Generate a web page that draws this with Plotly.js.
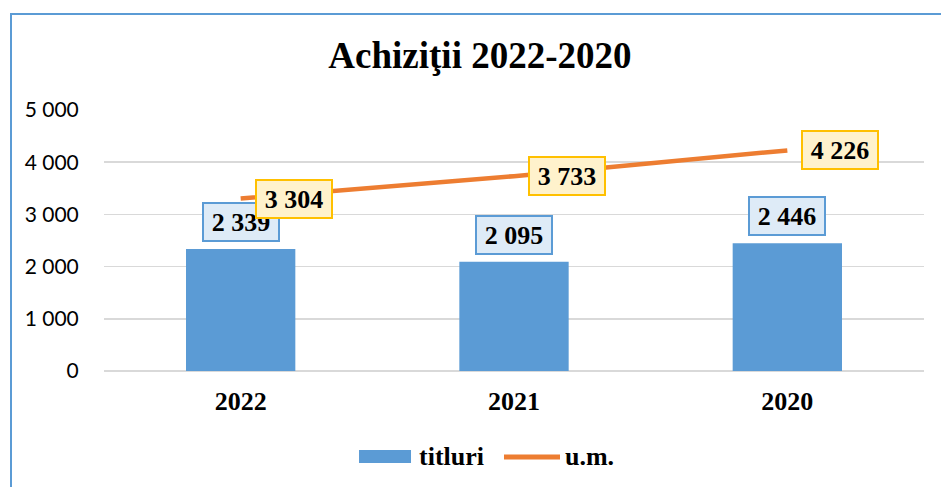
<!DOCTYPE html>
<html>
<head>
<meta charset="utf-8">
<script src="https://cdn.plot.ly/plotly-3.0.1.min.js"></script>
<style>
  html, body { margin: 0; padding: 0; background: #ffffff; overflow: hidden; }
  #chart { position: absolute; left: 0; top: 0; width: 941px; height: 487px; }
  #frame { position: absolute; left: 10px; top: 13px; width: 2000px; height: 2000px;
           border-top: 2px solid #5B9BD5; border-left: 2px solid #5B9BD5; pointer-events: none; }
</style>
</head>
<body>
<div id="chart"></div>
<div id="frame"></div>
<script>
const categories = ['2022', '2021', '2020'];
const titluri = [2339, 2095, 2446];
const um = [3304, 3733, 4226];
const yTickVals = [0, 1000, 2000, 3000, 4000, 5000];
const seriesNames = ['titluri', 'u.m.'];
const chartTitle = 'Achiziţii 2022-2020';

const BLUE = '#5B9BD5';
const ORANGE = '#ED7D31';
const SERIF = '"Liberation Serif", "Times New Roman", serif';
const SANS = 'Lato, Carlito, Calibri, sans-serif';

function fmt(v) { return String(v).replace(/\B(?=(\d{3})+(?!\d))/g, ' '); }

const traces = [
  { type: 'bar', x: categories, y: titluri, name: seriesNames[0],
    marker: { color: BLUE }, width: 0.4, hoverinfo: 'skip', showlegend: false },
  { type: 'scatter', mode: 'lines', x: categories, y: um, name: seriesNames[1],
    line: { color: ORANGE, width: 4.5 }, hoverinfo: 'skip', showlegend: false }
];

const annotations = [];
categories.forEach((c, i) => {
  annotations.push({
    x: i, y: titluri[i], xref: 'x', yref: 'y', text: fmt(titluri[i]),
    showarrow: false, xanchor: 'center', yanchor: 'bottom', yshift: 7,
    width: 72, height: 34, borderpad: 1,
    bgcolor: '#DEEBF7', bordercolor: BLUE, borderwidth: 2,
    font: { family: SERIF, size: 26, color: '#000', weight: 'bold' }
  });
});
categories.forEach((c, i) => {
  annotations.push({
    x: i, y: um[i], xref: 'x', yref: 'y', text: fmt(um[i]),
    showarrow: false, xanchor: 'center', yanchor: 'middle', xshift: 53,
    width: 72, height: 34, borderpad: 1,
    bgcolor: '#FFF2CC', bordercolor: '#FFC000', borderwidth: 2,
    font: { family: SERIF, size: 26, color: '#000', weight: 'bold' }
  });
});
// custom legend texts
annotations.push({
  x: 0.3817, y: -0.3295, xref: 'paper', yref: 'paper', text: seriesNames[0],
  showarrow: false, xanchor: 'left', yanchor: 'middle',
  font: { family: SERIF, size: 26, color: '#000', weight: 'bold' }
});
annotations.push({
  x: 0.5598, y: -0.3295, xref: 'paper', yref: 'paper', text: seriesNames[1],
  showarrow: false, xanchor: 'left', yanchor: 'middle',
  font: { family: SERIF, size: 26, color: '#000', weight: 'bold' }
});

const shapes = [
  { type: 'rect', xref: 'paper', yref: 'paper', x0: 0.311, x1: 0.3744, y0: -0.3525, y1: -0.3027,
    fillcolor: BLUE, line: { width: 0 } },
  { type: 'line', xref: 'paper', yref: 'paper', x0: 0.4878, x1: 0.5561, y0: -0.3295, y1: -0.3295,
    line: { color: ORANGE, width: 5 } }
];

const layout = {
  width: 941, height: 487,
  margin: { l: 104, r: 17, t: 110, b: 116 },
  paper_bgcolor: 'rgba(0,0,0,0)', plot_bgcolor: '#ffffff',
  separators: ', ',
  showlegend: false,
  title: {
    text: chartTitle, xref: 'container', yref: 'container',
    x: 0.51, xanchor: 'center', y: 0.887, yanchor: 'middle',
    font: { family: SERIF, size: 37, color: '#000', weight: 'bold' }
  },
  xaxis: {
    type: 'category', range: [-0.5, 2.5], autorange: false,
    showgrid: false, zeroline: false, showline: false,
    ticks: 'outside', ticklen: 7, tickcolor: 'rgba(0,0,0,0)',
    tickfont: { family: SERIF, size: 26, color: '#000', weight: 'bold' },
    fixedrange: true
  },
  yaxis: {
    range: [0, 5000], autorange: false, tickvals: yTickVals, tickformat: ',d',
    showgrid: true, gridcolor: '#D9D9D9', gridwidth: 1.5,
    zeroline: true, zerolinecolor: '#D9D9D9', zerolinewidth: 1.5,
    showline: false,
    ticks: 'outside', ticklen: 20, tickcolor: 'rgba(0,0,0,0)',
    tickfont: { family: SANS, size: 21, color: '#000' },
    fixedrange: true
  },
  annotations: annotations,
  shapes: shapes
};

Plotly.newPlot('chart', traces, layout, { displayModeBar: false, staticPlot: true });
</script>
</body>
</html>
